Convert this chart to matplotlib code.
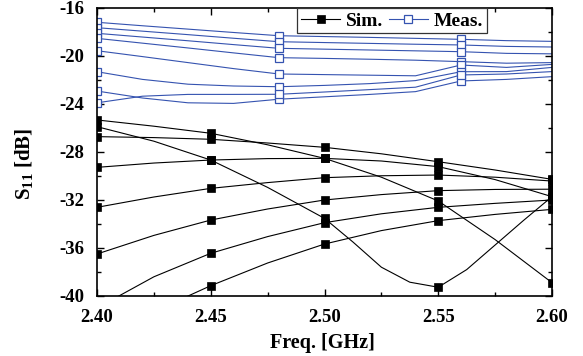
import numpy as np
import matplotlib
matplotlib.use("Agg")
import matplotlib.pyplot as plt
from matplotlib.ticker import MultipleLocator, FormatStrFormatter
from matplotlib.lines import Line2D

# -----------------------------
# Data
# -----------------------------
# simulated curves, marker every 0.05 GHz
freq_sim = [2.400, 2.425, 2.450, 2.475, 2.500, 2.525, 2.550, 2.575, 2.600]
sim_a = [-25.33, -25.85, -26.44, -27.40, -28.53, -30.10, -32.08, -35.30, -38.89]
sim_c = [-26.72, -26.80, -26.94, -27.25, -27.61, -28.15, -28.81, -29.50, -30.28]
sim_d = [-29.28, -28.92, -28.67, -28.55, -28.53, -28.75, -29.22, -30.30, -31.72]
sim_e = [-32.61, -31.75, -31.03, -30.55, -30.14, -29.98, -29.92, -30.10, -30.42]
sim_f = [-36.50, -34.95, -33.67, -32.75, -32.00, -31.55, -31.22, -31.12, -31.10]
sim_g = [-41.00, -38.40, -36.44, -35.05, -33.89, -33.15, -32.61, -32.28, -32.00]
sim_h = [-43.50, -41.30, -39.14, -37.25, -35.67, -34.55, -33.72, -33.20, -32.78]

# the curve with the dip at 2.55 GHz, read more densely
freq_sim_b = [2.400, 2.425, 2.450, 2.475, 2.500, 2.5125, 2.525, 2.5375,
              2.550, 2.5625, 2.575, 2.5875, 2.600]
sim_b = [-25.89, -27.10, -28.67, -30.95, -33.53, -35.50, -37.60, -38.85,
         -39.27, -37.80, -35.75, -33.70, -31.72]

# measured curves, marker at 2.40 / 2.48 / 2.56 GHz
freq_meas = [2.40, 2.42, 2.44, 2.46, 2.48, 2.50, 2.52, 2.54, 2.56, 2.58, 2.60]
meas_1 = [-17.19, -17.48, -17.76, -18.04, -18.31, -18.38, -18.45, -18.53, -18.61, -18.72, -18.78]
meas_2 = [-17.64, -17.93, -18.22, -18.52, -18.81, -18.88, -18.95, -19.02, -19.08, -19.20, -19.25]
meas_3 = [-18.11, -18.42, -18.73, -19.05, -19.36, -19.43, -19.50, -19.57, -19.64, -19.78, -19.82]
meas_4 = [-18.53, -18.93, -19.33, -19.74, -20.14, -20.20, -20.27, -20.35, -20.47, -20.60, -20.55]
meas_5 = [-19.56, -20.05, -20.55, -21.05, -21.50, -21.55, -21.60, -21.65, -20.75, -20.95, -20.70]
meas_6 = [-21.31, -21.95, -22.35, -22.50, -22.56, -22.45, -22.30, -22.05, -21.31, -21.30, -20.95]
meas_7 = [-22.92, -23.50, -23.90, -23.95, -23.60, -23.40, -23.20, -22.97, -22.08, -21.95, -21.72]
meas_8 = [-23.90, -23.35, -23.20, -23.20, -23.19, -23.00, -22.80, -22.60, -21.58, -21.50, -21.30]

sim_marks = [2.40, 2.45, 2.50, 2.55, 2.60]
meas_marks = [2.40, 2.48, 2.56]

# -----------------------------
# Style
# -----------------------------
blue = "#3553b0"
plt.rcParams["font.family"] = ["Liberation Serif", "DejaVu Serif"]
plt.rcParams["font.weight"] = "bold"
plt.rcParams["mathtext.fontset"] = "custom"
plt.rcParams["mathtext.rm"] = "Liberation Serif:bold"
plt.rcParams["mathtext.bf"] = "Liberation Serif:bold"

fig = plt.figure(figsize=(5.83, 3.56), dpi=100)
ax = fig.add_axes([97 / 583, 60 / 356, 455 / 583, 288 / 356])


def mark_idx(xs, marks):
    return [i for i, x in enumerate(xs) if any(abs(x - m) < 1e-6 for m in marks)]


sim_kw = dict(color="black", lw=0.8, marker="s", ms=6.4, mfc="black",
              mec="black", mew=0.5)
for ys in [sim_a, sim_c, sim_d, sim_e, sim_f, sim_g, sim_h]:
    ax.plot(freq_sim, ys, markevery=mark_idx(freq_sim, sim_marks), **sim_kw)
ax.plot(freq_sim_b, sim_b, markevery=mark_idx(freq_sim_b, sim_marks), **sim_kw)

meas_kw = dict(color=blue, lw=0.8, marker="s", ms=5.2, mfc="white",
               mec=blue, mew=0.9)
for ys in [meas_1, meas_2, meas_3, meas_4, meas_5, meas_6, meas_7, meas_8]:
    ax.plot(freq_meas, ys, markevery=mark_idx(freq_meas, meas_marks), **meas_kw)

ax.set_xlim(2.40, 2.60)
ax.set_ylim(-40, -16)
ax.xaxis.set_major_locator(MultipleLocator(0.05))
ax.xaxis.set_minor_locator(MultipleLocator(0.025))
ax.yaxis.set_major_locator(MultipleLocator(4))
ax.yaxis.set_minor_locator(MultipleLocator(2))
ax.xaxis.set_major_formatter(FormatStrFormatter("%.2f"))
ax.yaxis.set_major_formatter(FormatStrFormatter("%d"))
ax.tick_params(which="both", direction="in", top=True, right=True,
               labeltop=False, labelright=False, width=1.0, labelsize=13.5)
ax.tick_params(axis="x", which="major", pad=9)
ax.tick_params(axis="y", which="major", pad=9)
ax.tick_params(which="major", length=5)
ax.tick_params(which="minor", length=3)
for s in ax.spines.values():
    s.set_linewidth(1.2)
for lab in ax.get_xticklabels() + ax.get_yticklabels():
    lab.set_fontweight("bold")

ax.set_xlabel("Freq. [GHz]", fontsize=14.5, fontweight="bold")
ax.xaxis.set_label_coords(0.495, -0.13)
ax.set_ylabel(r"S$_{11}$ [dB]", fontsize=15, fontweight="bold")
ax.yaxis.set_label_coords(-0.133, 0.46)

handles = [
    Line2D([], [], **sim_kw),
    Line2D([], [], **meas_kw),
]
leg = ax.legend(handles, ["Sim.", "Meas."], loc="upper right",
                bbox_to_anchor=(0.857, 1.0), ncol=2, frameon=True,
                fancybox=False, edgecolor="#333333", framealpha=1,
                borderaxespad=0, handlelength=2.0, columnspacing=0.3,
                handletextpad=0.3, borderpad=0.2,
                prop={"size": 14, "weight": "bold"})
leg.get_frame().set_linewidth(0.9)

fig.savefig("out.png", dpi=100)
